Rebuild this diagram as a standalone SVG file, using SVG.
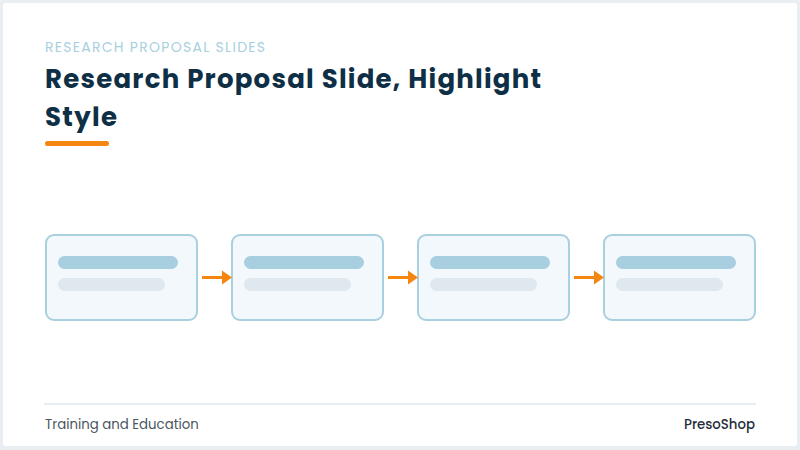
<svg xmlns="http://www.w3.org/2000/svg" width="800" height="450" viewBox="0 0 800 450">
  <defs>
    <style>
      .box { fill: #f2f8fc; stroke: #a9d0de; stroke-width: 2; }
      .bar1 { fill: #a7cfe0; }
      .bar2 { fill: #dfe7ef; }
      .conn { stroke: #f5860f; stroke-width: 3; fill: none; }
      .head { fill: #f5860f; }
      .sans { font-family: Poppins, Inter, "Noto Sans", "Liberation Sans", sans-serif; }
    </style>
  </defs>
  <rect x="0" y="0" width="800" height="450" fill="#e9eef3"/>
  <rect x="3" y="3" width="794" height="443" rx="3" fill="#ffffff"/>

  <text class="sans" x="45" y="52" font-size="14" fill="#a8d0e0" textLength="220" lengthAdjust="spacing">RESEARCH PROPOSAL SLIDES</text>
  <text class="sans" x="45" y="88" font-size="26" font-weight="700" fill="#0e2f45" textLength="496" lengthAdjust="spacing">Research Proposal Slide, Highlight</text>
  <text class="sans" x="45" y="126" font-size="26" font-weight="700" fill="#0e2f45" textLength="72" lengthAdjust="spacing">Style</text>
  <rect x="45" y="141" width="64" height="5" rx="2.5" fill="#f5860f"/>

  <g id="node1">
    <rect class="box" x="46" y="235" width="151" height="85" rx="8"/>
    <rect class="bar1" x="58" y="256" width="120" height="13" rx="6.5"/>
    <rect class="bar2" x="58" y="278" width="107" height="13" rx="6.5"/>
  </g>
  <g id="node2">
    <rect class="box" x="232" y="235" width="151" height="85" rx="8"/>
    <rect class="bar1" x="244" y="256" width="120" height="13" rx="6.5"/>
    <rect class="bar2" x="244" y="278" width="107" height="13" rx="6.5"/>
  </g>
  <g id="node3">
    <rect class="box" x="418" y="235" width="151" height="85" rx="8"/>
    <rect class="bar1" x="430" y="256" width="120" height="13" rx="6.5"/>
    <rect class="bar2" x="430" y="278" width="107" height="13" rx="6.5"/>
  </g>
  <g id="node4">
    <rect class="box" x="604" y="235" width="151" height="85" rx="8"/>
    <rect class="bar1" x="616" y="256" width="120" height="13" rx="6.5"/>
    <rect class="bar2" x="616" y="278" width="107" height="13" rx="6.5"/>
  </g>

  <g id="connectors">
    <line class="conn" x1="202" y1="277.5" x2="224" y2="277.5"/>
    <polygon class="head" points="222,270.5 232,277.5 222,284.5"/>
    <line class="conn" x1="388" y1="277.5" x2="410" y2="277.5"/>
    <polygon class="head" points="408,270.5 418,277.5 408,284.5"/>
    <line class="conn" x1="574" y1="277.5" x2="596" y2="277.5"/>
    <polygon class="head" points="594,270.5 604,277.5 594,284.5"/>
  </g>

  <rect x="44" y="403" width="712" height="2" fill="#e6edf2"/>
  <text class="sans" x="45" y="429" font-size="13.3" fill="#4a5560">Training and Education</text>
  <text class="sans" x="755" y="429" font-size="13.3" font-weight="500" fill="#1f2d3a" text-anchor="end">PresoShop</text>
</svg>
